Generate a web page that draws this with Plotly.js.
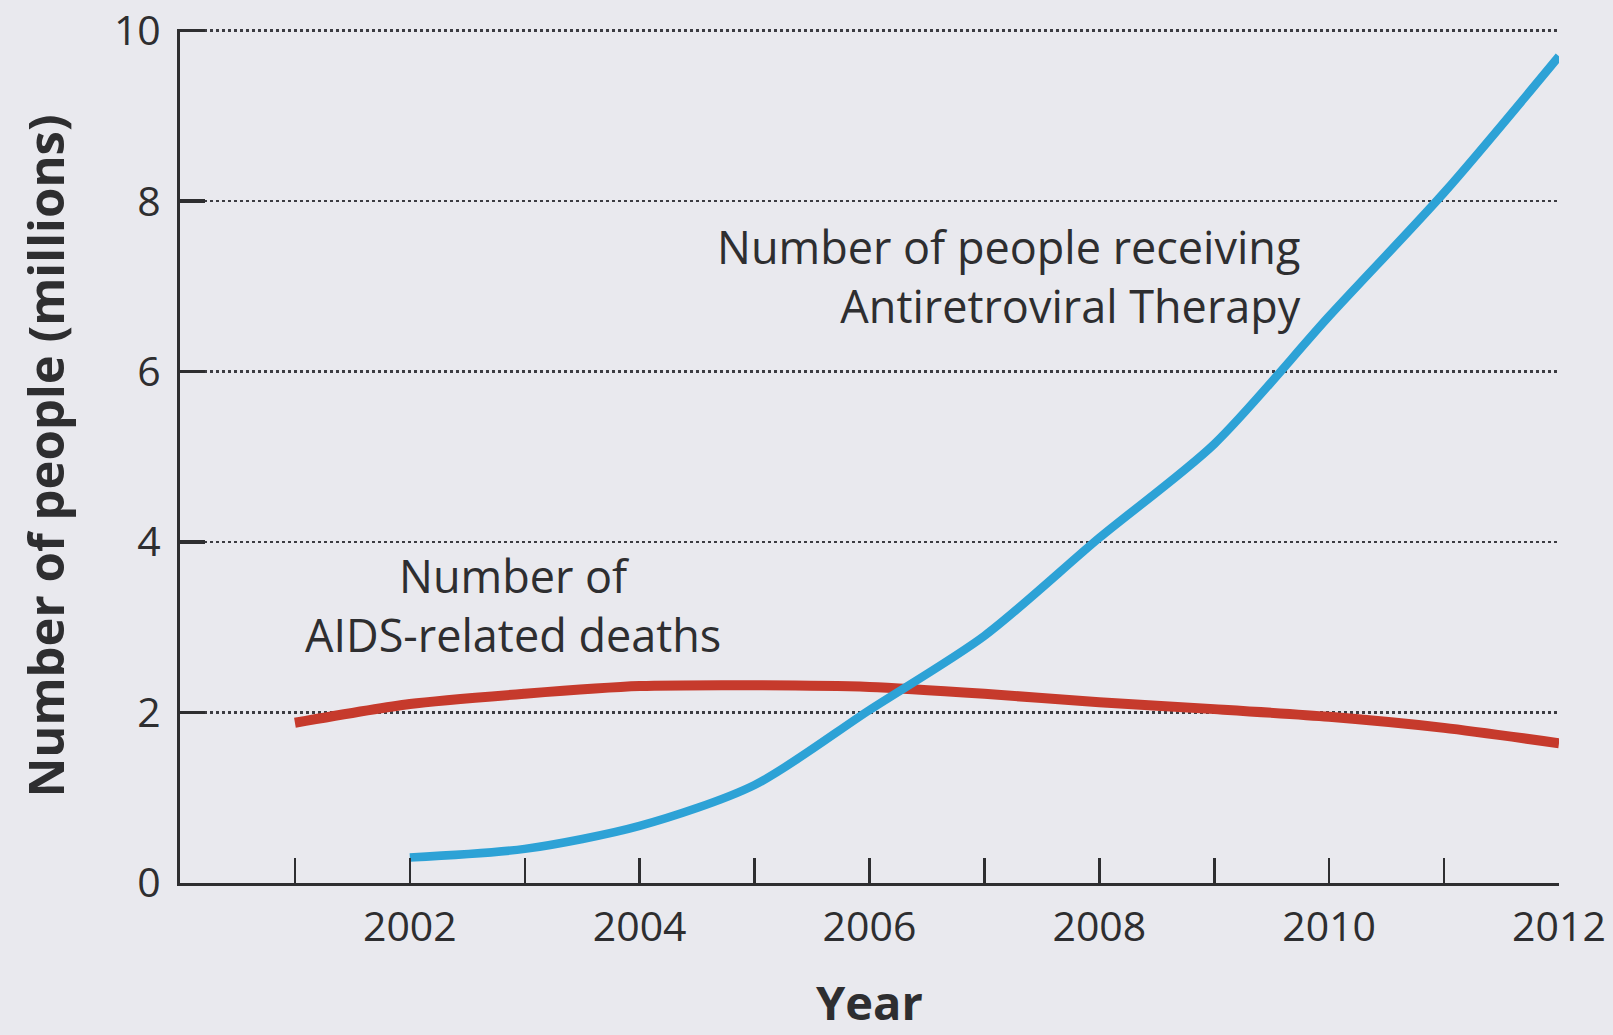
<!DOCTYPE html>
<html>
<head>
<meta charset="utf-8">
<script src="https://cdn.plot.ly/plotly-3.0.1.min.js"></script>
<style>
  html, body { margin: 0; padding: 0; background: #e9e9ee; }
  #chart { width: 1613px; height: 1035px; }
</style>
</head>
<body>
<div id="chart"></div>
<script>
// ---- data ----
const artYears  = [2002, 2003, 2004, 2005, 2006, 2007, 2008, 2009, 2010, 2011, 2012];
const artValues = [0.3, 0.4, 0.67, 1.15, 2.03, 2.9, 4.05, 5.15, 6.65, 8.1, 9.7];

const deathYears  = [2001, 2002, 2003, 2004, 2005, 2006, 2007, 2008, 2009, 2010, 2011, 2012];
const deathValues = [1.88, 2.1, 2.22, 2.31, 2.32, 2.3, 2.22, 2.12, 2.04, 1.95, 1.82, 1.64];

const xTickValues = [2002, 2004, 2006, 2008, 2010, 2012];
const xTickLabels = ["2002", "2004", "2006", "2008", "2010", "2012"];
const yTickValues = [0, 2, 4, 6, 8, 10];
const yTickLabels = ["0", "2", "4", "6", "8", "10"];

const xAxisTitle = "Year";
const yAxisTitle = "Number of people (millions)";
const artLabel = "Number of people receiving<br>Antiretroviral Therapy";
const deathLabel = "Number of<br>AIDS-related deaths";

// ---- drawing ----
const BG = "#e9e9ee";
const INK = "#2e2e30";
const FONT = "Open Sans, Noto Sans, DejaVu Sans, sans-serif";

const traces = [
  {
    x: deathYears, y: deathValues, type: "scatter", mode: "lines",
    line: { color: "#c63a2c", width: 10, shape: "spline", smoothing: 0.7 },
    hoverinfo: "skip"
  },
  {
    x: artYears, y: artValues, type: "scatter", mode: "lines",
    line: { color: "#2da2d6", width: 8.5, shape: "spline", smoothing: 0.8 },
    hoverinfo: "skip"
  }
];

const annFont = { family: FONT, size: 45, color: INK };
const annotations = [
  { x: 2009.77, y: 7.12, text: artLabel, xanchor: "right", yanchor: "middle", align: "right" },
  { x: 2002.9, y: 3.26, text: deathLabel, xanchor: "center", yanchor: "middle", align: "center" }
].map(a => Object.assign({ xref: "x", yref: "y", showarrow: false, font: annFont }, a));

// x-axis title placed as an annotation, low in the bottom margin but kept inside the page
annotations.push({
  xref: "paper", yref: "paper", x: 0.5, y: -0.1394, xanchor: "center", yanchor: "middle",
  showarrow: false, text: xAxisTitle,
  font: { family: FONT, size: 47, color: INK, weight: "bold" }
});

const layout = {
  width: 1613, height: 1035,
  margin: { l: 180, r: 54, t: 29.3, b: 152, pad: 0 },
  paper_bgcolor: BG, plot_bgcolor: BG,
  showlegend: false,
  font: { family: FONT, color: INK },
  xaxis: {
    range: [2000, 2012],
    tickmode: "array", tickvals: xTickValues, ticktext: xTickLabels,
    ticks: "inside", ticklen: 25, tickwidth: 2.5, tickcolor: INK,
    minor: { dtick: 1, tick0: 2001, ticks: "inside", ticklen: 25, tickwidth: 2.5, tickcolor: INK, showgrid: false },
    showline: true, linecolor: INK, linewidth: 3,
    showgrid: false, zeroline: false,
    tickfont: { family: FONT, size: 41, color: INK },
    ticklabelstandoff: 6,
    fixedrange: true
  },
  yaxis: {
    range: [0, 10.02],
    tickmode: "array", tickvals: yTickValues, ticktext: yTickLabels,
    ticks: "inside", ticklen: 25, tickwidth: 3.5, tickcolor: INK,
    showline: true, linecolor: INK, linewidth: 3,
    showgrid: true, gridcolor: "#3c3c42", gridwidth: 2.5, griddash: "dot",
    zeroline: false,
    tickfont: { family: FONT, size: 41, color: INK },
    ticklabelstandoff: 8,
    title: { text: yAxisTitle, font: { family: FONT, size: 49, color: INK, weight: "bold" }, standoff: 34 },
    fixedrange: true
  },
  annotations: annotations
};

Plotly.newPlot("chart", traces, layout, { staticPlot: true, displayModeBar: false });
</script>
</body>
</html>
